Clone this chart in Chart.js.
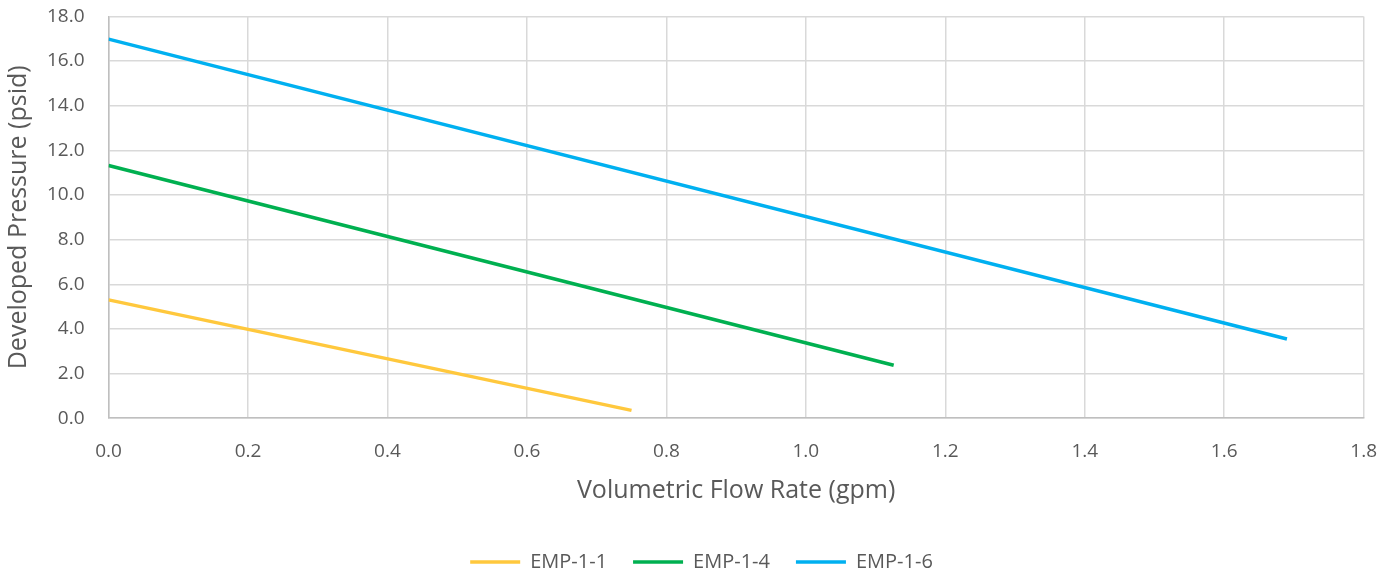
<!DOCTYPE html>
<html>
<head>
<meta charset="utf-8">
<script src="https://cdn.jsdelivr.net/npm/chart.js@4"></script>
<style>
  html, body { margin: 0; padding: 0; background: #fff; overflow: hidden; }
  #wrap { position: relative; width: 1399px; height: 601px; margin-top: -19px; }
</style>
</head>
<body>
<div id="wrap"><canvas id="chart"></canvas></div>
<script>
// values (gpm, psid)
const seriesNames = ['EMP-1-1', 'EMP-1-4', 'EMP-1-6'];
const seriesColors = ['#FFC83D', '#00B050', '#00B0F0'];

const flow11 = [0.0, 0.75];
const pressure11 = [5.3, 0.35];

const flow14 = [0.0, 1.126];
const pressure14 = [11.32, 2.37];

const flow16 = [0.0, 1.69];
const pressure16 = [16.98, 3.55];

const allFlows = [flow11, flow14, flow16];
const allPressures = [pressure11, pressure14, pressure16];

const fontFamily = '"Open Sans", Lato, sans-serif';
const textColor = '#595959';

function toPoints(xs, ys) {
    const pts = [];
    for (let i = 0; i < xs.length; i++) {
        pts.push({ x: xs[i], y: ys[i] });
    }
    return pts;
}

const datasets = [];
for (let i = 0; i < seriesNames.length; i++) {
    datasets.push({
        label: seriesNames[i],
        data: toPoints(allFlows[i], allPressures[i]),
        borderColor: seriesColors[i],
        backgroundColor: seriesColors[i],
        borderWidth: 3.5,
        pointRadius: 0,
        pointStyle: 'line',
        tension: 0
    });
}

new Chart(document.getElementById('chart'), {
    type: 'line',
    data: { datasets: datasets },
    options: {
        responsive: true,
        maintainAspectRatio: false,
        animation: false,
        layout: { padding: { left: 4, right: 0, top: 0, bottom: 0 } },
        plugins: {
            legend: {
                position: 'bottom',
                labels: {
                    font: { family: fontFamily, size: 20 },
                    color: textColor,
                    usePointStyle: true,
                    pointStyleWidth: 50,
                    padding: 26
                }
            },
            tooltip: { enabled: false }
        },
        scales: {
            x: {
                type: 'linear',
                min: 0,
                max: 1.8,
                ticks: {
                    stepSize: 0.2,
                    padding: 22,
                    color: textColor,
                    font: { family: fontFamily, size: 19 },
                    callback: v => v.toFixed(1)
                },
                grid: { color: '#D9D9D9', lineWidth: 1.5, drawTicks: false },
                border: { color: '#BFBFBF', width: 1.5 },
                title: {
                    display: true,
                    text: 'Volumetric Flow Rate (gpm)',
                    color: textColor,
                    font: { family: fontFamily, size: 25 },
                    padding: { top: -9, bottom: 20 }
                }
            },
            y: {
                min: 0,
                max: 18,
                ticks: {
                    stepSize: 2,
                    padding: 24,
                    color: textColor,
                    font: { family: fontFamily, size: 19 },
                    callback: v => v.toFixed(1)
                },
                grid: { color: '#D9D9D9', lineWidth: 1.5, drawTicks: false },
                border: { color: '#BFBFBF', width: 1.5 },
                title: {
                    display: true,
                    text: 'Developed Pressure (psid)',
                    color: textColor,
                    font: { family: fontFamily, size: 25 },
                    padding: { top: 0, bottom: -11 }
                }
            }
        }
    }
});
</script>
</body>
</html>
